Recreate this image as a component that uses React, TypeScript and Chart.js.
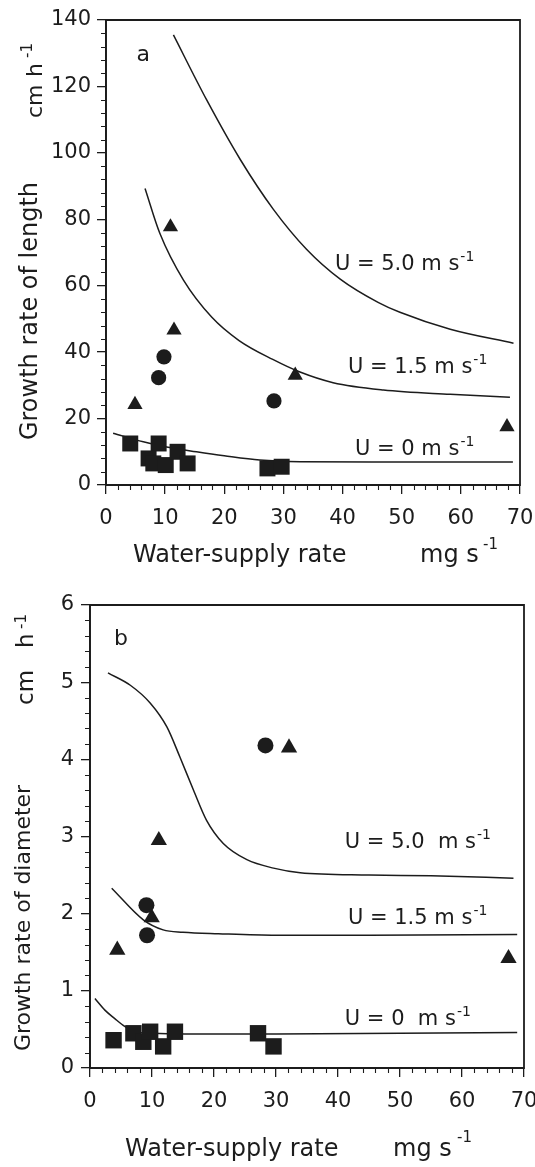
import { useEffect, useRef } from "react";
import { Chart, registerables } from "chart.js";

Chart.register(...registerables);

const FONT = "'DejaVu Sans', 'Liberation Sans', sans-serif";
const INK = "#1c1c1c";
const PAGE_W = 535;

// ---------------- panel a : growth rate of length ----------------
const aSquareX = [4.1, 8.9, 7.2, 8.0, 10.1, 12.1, 13.8, 27.3, 29.7];
const aSquareY = [12.5, 12.5, 8.0, 6.5, 6.0, 10.0, 6.5, 5.0, 5.5];
const aCircleX = [9.8, 8.9, 28.4];
const aCircleY = [38.6, 32.3, 25.3];
const aTriangleX = [4.9, 10.9, 11.5, 32.0, 67.8];
const aTriangleY = [24.2, 77.7, 46.6, 33.0, 17.5];

const aU5X = [11.4, 17.0, 22.7, 28.3, 33.9, 39.6, 46.0, 49.7, 58.2, 68.9];
const aU5Y = [135.5, 116, 98, 83, 71, 62, 55, 52, 46.9, 42.7];
const aU15X = [6.6, 9.1, 13.1, 17.9, 22.5, 28.2, 32.8, 38.4, 46.9, 58.2, 68.3];
const aU15Y = [89.3, 75.8, 61.7, 50.5, 43.5, 37.8, 34.0, 30.8, 28.6, 27.3, 26.4];
const aU0X = [1.2, 6.3, 10.0, 15.3, 20.0, 26.0, 32.8, 45.0, 68.8];
const aU0Y = [15.6, 13.0, 11.5, 10.0, 8.8, 7.5, 7.0, 6.9, 6.9];

const aLabelText = ["U = 5.0 m s", "U = 1.5 m s", "U = 0 m s"];
const aLabelX = [38.7, 40.9, 42.1];
const aLabelY = [64.7, 33.7, 9.0];

// ---------------- panel b : growth rate of diameter ----------------
const bSquareX = [3.8, 7.0, 8.6, 9.7, 11.8, 13.7, 27.1, 29.6];
const bSquareY = [0.36, 0.45, 0.34, 0.47, 0.28, 0.47, 0.45, 0.28];
const bCircleX = [9.1, 9.2, 28.3];
const bCircleY = [2.11, 1.72, 4.18];
const bTriangleX = [4.4, 9.95, 11.1, 32.1, 67.5];
const bTriangleY = [1.53, 1.95, 2.95, 4.15, 1.42];

const bU5X = [2.9, 6.5, 9.7, 12.4, 14.5, 16.7, 18.8, 21.5, 25.3, 29.6, 33.9, 45.0, 55.0, 68.3];
const bU5Y = [5.12, 4.96, 4.73, 4.42, 4.03, 3.6, 3.21, 2.91, 2.7, 2.59, 2.53, 2.5, 2.49, 2.46];
const bU15X = [3.5, 8.6, 11.8, 15.0, 20.7, 30.0, 45.0, 68.9];
const bU15Y = [2.33, 1.92, 1.79, 1.76, 1.74, 1.72, 1.72, 1.73];
const bU0X = [0.8, 2.4, 4.0, 5.6, 7.3, 10.0, 15.3, 30.0, 50.0, 68.9];
const bU0Y = [0.9, 0.75, 0.64, 0.54, 0.47, 0.45, 0.44, 0.44, 0.45, 0.46];

const bLabelText = ["U = 5.0  m s", "U = 1.5 m s", "U = 0  m s"];
const bLabelX = [41.1, 41.6, 41.1];
const bLabelY = [2.85, 1.87, 0.56];

// ---------------- helpers ----------------
const pts = (xs: number[], ys: number[]) => xs.map((x, i) => ({ x, y: ys[i] }));

type Spec = {
  top: number;
  height: number;
  area: { left: number; right: number; top: number; bottom: number };
  yMax: number;
  yStep: number;
  yMinorStep: number;
  yPad: number;
  curves: { x: number[]; y: number[] }[];
  squares: { x: number[]; y: number[] };
  circles: { x: number[]; y: number[] };
  triangles: { x: number[]; y: number[] };
  sq: number;
  ci: number;
  tr: number;
  labels: { text: string[]; x: number[]; y: number[] };
  letter: { text: string; x: number; y: number };
  titles: (ctx: CanvasRenderingContext2D) => void;
};

function rotText(
  ctx: CanvasRenderingContext2D,
  x: number,
  y: number,
  text: string,
  size: number,
  align: CanvasTextAlign,
  localX = 0,
  localY = 0
) {
  ctx.save();
  ctx.translate(x, y);
  ctx.rotate(-Math.PI / 2);
  ctx.font = `${size}px ${FONT}`;
  ctx.textAlign = align;
  ctx.textBaseline = "alphabetic";
  ctx.fillText(text, localX, localY);
  ctx.restore();
}

function plainText(ctx: CanvasRenderingContext2D, x: number, y: number, text: string, size: number) {
  ctx.font = `${size}px ${FONT}`;
  ctx.textAlign = "left";
  ctx.textBaseline = "alphabetic";
  ctx.fillText(text, x, y);
}

const specA: Spec = {
  top: 0,
  height: 580,
  area: { left: 106, right: 520, top: 20, bottom: 485 },
  yMax: 140,
  yStep: 20,
  yMinorStep: 4,
  yPad: 6,
  curves: [
    { x: aU5X, y: aU5Y },
    { x: aU15X, y: aU15Y },
    { x: aU0X, y: aU0Y },
  ],
  squares: { x: aSquareX, y: aSquareY },
  circles: { x: aCircleX, y: aCircleY },
  triangles: { x: aTriangleX, y: aTriangleY },
  sq: 11.3,
  ci: 7.6,
  tr: 8.8,
  labels: { text: aLabelText, x: aLabelX, y: aLabelY },
  letter: { text: "a", x: 6.3, y: 129.5 },
  titles: (ctx) => {
    ctx.fillStyle = INK;
    rotText(ctx, 37, 311, "Growth rate of length", 24, "center");
    rotText(ctx, 42, 118, "cm", 22, "left");
    rotText(ctx, 42, 118, "h", 22, "left", 41, 0);
    rotText(ctx, 42, 118, "-1", 15, "left", 60, -10);
    plainText(ctx, 133, 562, "Water-supply rate", 24);
    plainText(ctx, 420, 562, "mg s", 24);
    plainText(ctx, 483, 549, "-1", 15);
  },
};

const specB: Spec = {
  top: 580,
  height: 587,
  area: { left: 90, right: 524, top: 25, bottom: 488 },
  yMax: 6,
  yStep: 1,
  yMinorStep: 0.2,
  yPad: 7,
  curves: [
    { x: bU5X, y: bU5Y },
    { x: bU15X, y: bU15Y },
    { x: bU0X, y: bU0Y },
  ],
  squares: { x: bSquareX, y: bSquareY },
  circles: { x: bCircleX, y: bCircleY },
  triangles: { x: bTriangleX, y: bTriangleY },
  sq: 11.6,
  ci: 8,
  tr: 9.4,
  labels: { text: bLabelText, x: bLabelX, y: bLabelY },
  letter: { text: "b", x: 5.0, y: 5.55 },
  titles: (ctx) => {
    ctx.fillStyle = INK;
    rotText(ctx, 30, 338, "Growth rate of diameter", 22, "center");
    rotText(ctx, 33, 125, "cm", 23, "left");
    rotText(ctx, 33, 125, "h", 23, "left", 57, 0);
    rotText(ctx, 33, 125, "-1", 15, "left", 76, -7);
    plainText(ctx, 125, 576, "Water-supply rate", 24);
    plainText(ctx, 393, 576, "mg s", 24);
    plainText(ctx, 457, 562, "-1", 15);
  },
};

function Panel({ spec }: { spec: Spec }) {
  const ref = useRef<HTMLCanvasElement | null>(null);

  useEffect(() => {
    if (!ref.current) return;
    const s = spec;
    const decor = {
      id: "decor",
      afterDraw(chart: any) {
        const ctx: CanvasRenderingContext2D = chart.ctx;
        const xs = chart.scales.x;
        const ys = chart.scales.y;
        const left = xs.getPixelForValue(0);
        const right = xs.getPixelForValue(70);
        const bottom = ys.getPixelForValue(0);
        const top = ys.getPixelForValue(s.yMax);
        ctx.save();
        ctx.setLineDash([]);
        ctx.globalAlpha = 1;
        ctx.strokeStyle = INK;
        ctx.fillStyle = INK;
        // frame
        ctx.lineWidth = 1.8;
        ctx.lineCap = "square";
        ctx.beginPath();
        ctx.moveTo(left, top);
        ctx.lineTo(right, top);
        ctx.lineTo(right, bottom);
        ctx.lineTo(left, bottom);
        ctx.closePath();
        ctx.stroke();
        // minor ticks
        ctx.lineWidth = 1.1;
        ctx.lineCap = "butt";
        ctx.beginPath();
        for (let v = 2; v < 70; v += 2) {
          if (v % 10 === 0) continue;
          const px = Math.round(xs.getPixelForValue(v)) + 0.5;
          ctx.moveTo(px, bottom);
          ctx.lineTo(px, bottom + 5);
        }
        const n = Math.round(s.yMax / s.yMinorStep);
        const per = Math.round(s.yStep / s.yMinorStep);
        for (let i = 1; i < n; i++) {
          if (i % per === 0) continue;
          const py = Math.round(ys.getPixelForValue(i * s.yMinorStep)) + 0.5;
          ctx.moveTo(left - 5, py);
          ctx.lineTo(left, py);
        }
        ctx.stroke();
        // curve labels
        s.labels.text.forEach((t, i) => {
          const px = xs.getPixelForValue(s.labels.x[i]);
          const py = ys.getPixelForValue(s.labels.y[i]);
          plainText(ctx, px, py, t, 21);
          const w = ctx.measureText(t).width;
          plainText(ctx, px + w + 1, py - 9, "-1", 14);
        });
        // panel letter
        ctx.font = `22px ${FONT}`;
        ctx.textAlign = "center";
        ctx.textBaseline = "middle";
        ctx.fillText(s.letter.text, xs.getPixelForValue(s.letter.x), ys.getPixelForValue(s.letter.y));
        // axis titles
        s.titles(ctx);
        ctx.restore();
      },
    };

    const lineSet = (c: { x: number[]; y: number[] }) => ({
      type: "scatter" as const,
      data: pts(c.x, c.y),
      showLine: true,
      pointRadius: 0,
      borderColor: INK,
      borderWidth: 1.5,
      fill: false,
      cubicInterpolationMode: "monotone" as const,
      order: 5,
    });

    const markSet = (m: { x: number[]; y: number[] }, style: string, r: number) => ({
      type: "scatter" as const,
      data: pts(m.x, m.y),
      pointStyle: style,
      pointRadius: r,
      pointHoverRadius: r,
      backgroundColor: INK,
      borderColor: INK,
      borderWidth: 0,
      showLine: false,
      order: 1,
    });

    const tickFont = { family: FONT, size: 21 };
    const noPad = (sc: any) => {
      sc.paddingLeft = 0;
      sc.paddingRight = 0;
      sc.paddingTop = 0;
      sc.paddingBottom = 0;
    };

    const chart = new Chart(ref.current, {
      type: "scatter",
      data: {
        datasets: [
          ...s.curves.map(lineSet),
          markSet(s.squares, "rect", s.sq),
          markSet(s.circles, "circle", s.ci),
          markSet(s.triangles, "triangle", s.tr),
        ] as any,
      },
      options: {
        responsive: false,
        animation: false,
        events: [],
        layout: {
          autoPadding: false,
          padding: {
            top: s.area.top,
            right: PAGE_W - s.area.right,
            left: 0,
            bottom: 0,
          },
        },
        plugins: {
          legend: { display: false },
          tooltip: { enabled: false },
        },
        scales: {
          x: {
            type: "linear",
            min: 0,
            max: 70,
            afterFit: (sc: any) => {
              sc.height = s.height - s.area.bottom;
              noPad(sc);
            },
            ticks: {
              stepSize: 10,
              color: INK,
              font: tickFont,
              padding: 12,
              maxRotation: 0,
              autoSkip: false,
            },
            grid: {
              drawOnChartArea: false,
              drawTicks: true,
              tickLength: 9,
              color: INK,
              lineWidth: 1.3,
            },
            border: { display: true, color: INK, width: 1.8 },
          },
          y: {
            type: "linear",
            min: 0,
            max: s.yMax,
            afterFit: (sc: any) => {
              sc.width = s.area.left;
              noPad(sc);
            },
            ticks: {
              stepSize: s.yStep,
              color: INK,
              font: tickFont,
              padding: s.yPad,
              autoSkip: false,
            },
            grid: {
              drawOnChartArea: false,
              drawTicks: true,
              tickLength: 9,
              color: INK,
              lineWidth: 1.3,
            },
            border: { display: true, color: INK, width: 1.8 },
          },
        },
      } as any,
      plugins: [decor],
    });

    return () => chart.destroy();
  }, [spec]);

  return (
    <canvas
      ref={ref}
      width={PAGE_W}
      height={spec.height}
      style={{ position: "absolute", left: 0, top: spec.top, display: "block" }}
    />
  );
}

export default function App() {
  return (
    <div
      style={{
        position: "absolute",
        left: 0,
        top: 0,
        width: PAGE_W,
        height: 1167,
        background: "#ffffff",
        overflow: "hidden",
      }}
    >
      <Panel spec={specA} />
      <Panel spec={specB} />
    </div>
  );
}
